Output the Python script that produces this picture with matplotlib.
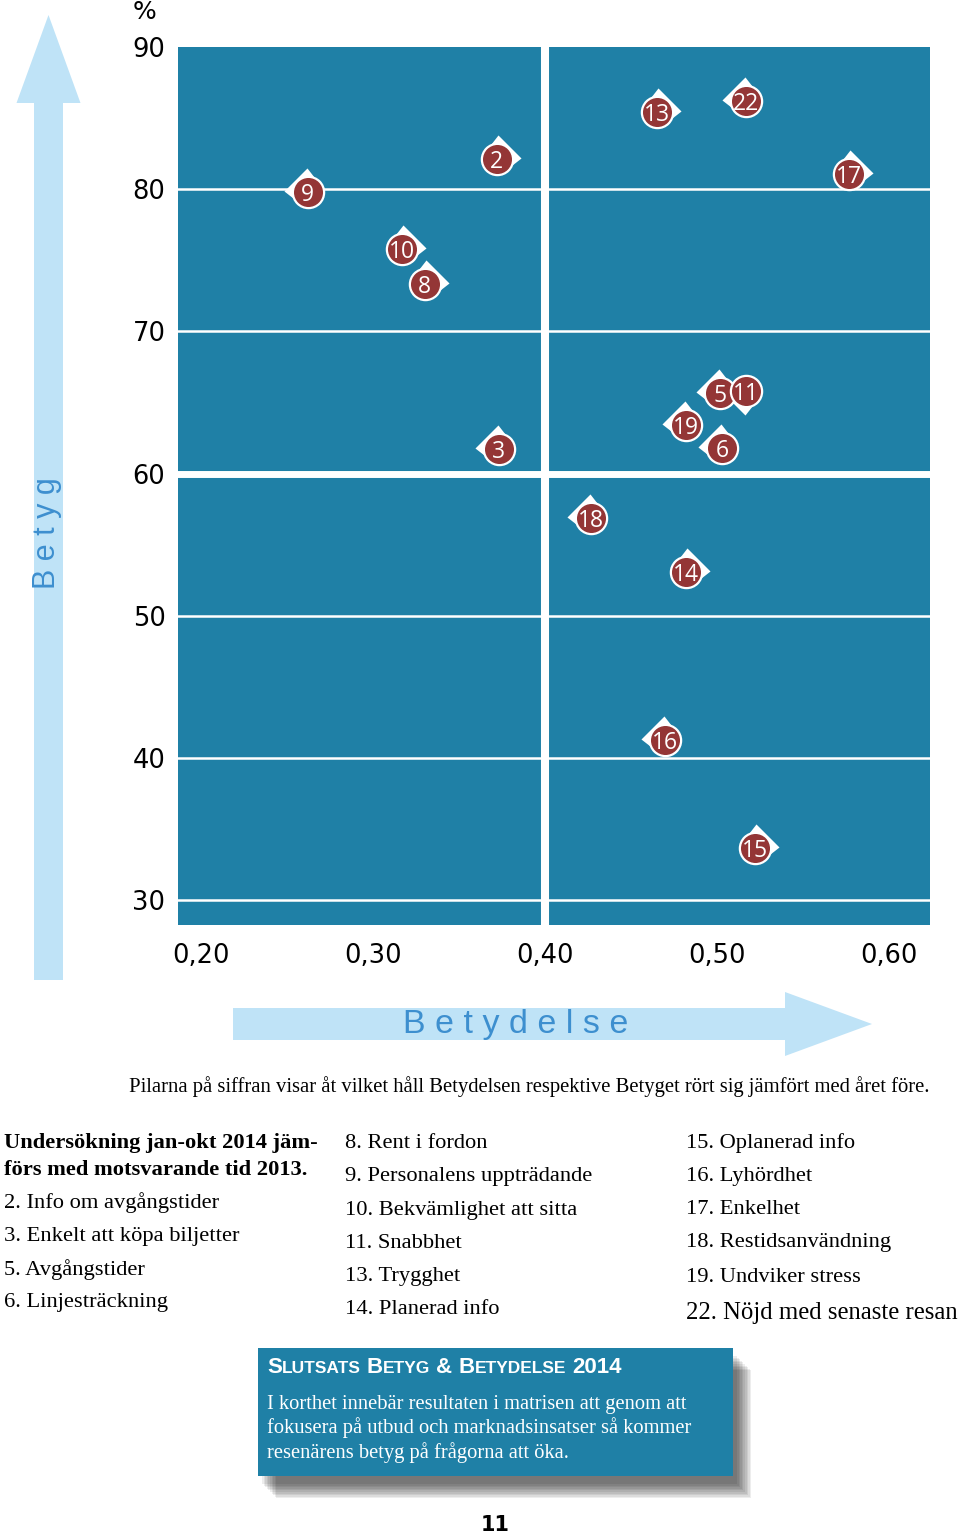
import numpy as np
import matplotlib
matplotlib.use('Agg')
import matplotlib.pyplot as plt
from matplotlib.path import Path
from matplotlib.patches import FancyArrow, Rectangle

teal = '#1f80a6'
dark_red = '#943636'
light_blue = '#bfe3f7'
arrow_text = '#3d8fcf'

# item number, Betydelse (x), Betyg in % (y)
ids = ['2', '3', '5', '6', '8', '9', '10', '11', '13', '14', '15', '16', '17', '18', '19', '22']
betydelse = [0.372, 0.373, 0.502, 0.503, 0.330, 0.262, 0.317, 0.517,
             0.465, 0.482, 0.522, 0.470, 0.577, 0.427, 0.482, 0.517]
betyg = [82.1, 61.7, 65.7, 61.8, 73.3, 79.8, 75.8, 65.8,
         85.45, 53.1, 33.65, 41.3, 81.1, 56.9, 63.4, 86.2]
# direction of change vs year before: +1 up/right, -1 down/left
dir_x = [1, -1, -1, -1, 1, -1, 1, -1, 1, 1, 1, -1, 1, -1, -1, -1]
dir_y = [1, 1, 1, 1, 1, 1, 1, -1, 1, 1, 1, 1, 1, 1, 1, 1]

xticks = [0.2, 0.3, 0.4, 0.5, 0.6]
xtick_labels = ['0,20', '0,30', '0,40', '0,50', '0,60']
yticks = [30, 40, 50, 60, 70, 80, 90]

legend_col1 = ['2. Info om avgångstider', '3. Enkelt att köpa biljetter',
               '5. Avgångstider', '6. Linjesträckning']
legend_col2 = ['8. Rent i fordon', '9. Personalens uppträdande', '10. Bekvämlighet att sitta',
               '11. Snabbhet', '13. Trygghet', '14. Planerad info']
legend_col3 = ['15. Oplanerad info', '16. Lyhördhet', '17. Enkelhet',
               '18. Restidsanvändning', '19. Undviker stress', '22. Nöjd med senaste resan']
body_lines = ['I korthet innebär resultaten i matrisen att genom att',
              'fokusera på utbud och marknadsinsatser så kommer',
              'resenärens betyg på frågorna att öka.']
title_words = ['Slutsats', 'Betyg', '&', 'Betydelse', '2014']


def pointer(sx, sy):
    # white kite sticking out of the circle towards the direction of change
    verts = [(sx * 1, sy * 24), (sx * 24, sy * 1), (sx * 6, -sy * 13),
             (-sx * 13, sy * 6), (sx * 1, sy * 24)]
    return Path(verts, closed=True)


fig = plt.figure(figsize=(9.6, 15.35), dpi=100)

# overlay in pixel coordinates for the page decorations
ov = fig.add_axes([0, 0, 1, 1])
ov.set_xlim(0, 960)
ov.set_ylim(1535, 0)
ov.axis('off')

ov.add_patch(FancyArrow(48.5, 980, 0, -965, width=29, head_width=64, head_length=88,
                        length_includes_head=True, color=light_blue, lw=0))
ov.add_patch(FancyArrow(233, 1024, 639, 0, width=32, head_width=64, head_length=87,
                        length_includes_head=True, color=light_blue, lw=0))
ov.text(47, 533, 'B e t y g', rotation=90, ha='center', va='center', color=arrow_text,
        fontsize=22, family='Liberation Sans')
ov.text(516, 1024, 'B e t y d e l s e', ha='center', va='center', color=arrow_text,
        fontsize=24.5, family='Liberation Sans')
ov.text(145, 12, '%', ha='center', va='center', fontsize=18)

serif = 'Liberation Serif'
ov.text(183, 71, 'Uppehåll', color='white', fontsize=17, family=serif, va='center')
ov.text(913, 71, 'Bibehåll', color='white', fontsize=17, family=serif, va='center', ha='right')
ov.text(193, 884, 'Utvärdera', color='white', fontsize=17, family=serif, va='center')
ov.text(922, 882, 'Prioritera', color='white', fontsize=17, family=serif, va='center', ha='right')

ov.text(529, 1087, 'Pilarna på siffran visar åt vilket håll Betydelsen respektive Betyget '
        'rört sig jämfört med året före.', ha='center', va='center', fontsize=14.9, family=serif)

# legend
fs_leg = 16.2
ov.text(4, 1143, 'Undersökning jan-okt 2014 jäm-', fontsize=fs_leg, family=serif,
        weight='bold', va='center')
ov.text(4, 1170, 'förs med motsvarande tid 2013.', fontsize=fs_leg, family=serif,
        weight='bold', va='center')
for s, yy in zip(legend_col1, [1203, 1237, 1270, 1303]):
    ov.text(4, yy, s, fontsize=fs_leg, family=serif, va='center')
for s, yy in zip(legend_col2, [1143, 1177, 1210, 1243, 1276, 1309]):
    ov.text(345, yy, s, fontsize=fs_leg, family=serif, va='center')
for s, yy in zip(legend_col3, [1143, 1177, 1210, 1243, 1278, 1313]):
    fs = 17.8 if s.startswith('22') else fs_leg
    ov.text(686, yy, s, fontsize=fs, family=serif, va='center')

# conclusion box with soft shadow
for k in range(10):
    ov.add_patch(Rectangle((262 + k * 1.6, 1356 + k * 1.6), 475, 128,
                           color='black', alpha=0.07, lw=0))
ov.add_patch(Rectangle((258, 1348), 475, 128, color=teal, lw=0))

renderer = fig.canvas.get_renderer()
x = 267
for w in title_words:
    if w[0].isalpha():
        big, small = w[0], w[1:].upper()
    else:
        big, small = w, ''
    t = ov.text(x, 1373, big, color='white', fontsize=16, weight='bold',
                family='Liberation Sans', va='baseline')
    x += t.get_window_extent(renderer).width
    if small:
        t = ov.text(x, 1373, small, color='white', fontsize=12.5, weight='bold',
                    family='Liberation Sans', va='baseline')
        x += t.get_window_extent(renderer).width
    x += 6
for s, yy in zip(body_lines, [1404, 1428, 1453]):
    ov.text(267, yy, s, color='white', fontsize=14.8, family=serif, va='center')

ov.text(495, 1525, '11', ha='center', va='center', fontsize=15, weight='bold')

# main matrix
ax = fig.add_axes([178 / 960, 1 - 925 / 1535, 752 / 960, 878 / 1535])
ax.set_facecolor(teal)
ax.set_xlim(0.1865, 0.624)
ax.set_ylim(28.26, 90)
for s in ax.spines.values():
    s.set_visible(False)
for g in [30, 40, 50, 70, 80]:
    ax.axhline(g, color='white', lw=1.8, zorder=1)
ax.axhline(60, color='white', lw=5, zorder=1)
ax.axvline(0.4, color='white', lw=5.8, zorder=1)

ax.set_xticks(xticks)
ax.set_xticklabels(xtick_labels)
ax.set_yticks(yticks)
ax.tick_params(length=0, labelsize=18.5, pad=9)
ax.tick_params(axis='x', pad=13)

for i in range(len(ids)):
    ax.plot(betydelse[i], betyg[i], marker=pointer(dir_x[i], dir_y[i]), ms=34.6,
            color='white', mew=0, ls='none', zorder=3)
for i in range(len(ids)):
    z = 4 + i * 0.01
    ax.plot(betydelse[i], betyg[i], 'o', ms=22.5, mfc=dark_red, mec='white',
            mew=1.6, zorder=z)
    ax.text(betydelse[i], betyg[i], ids[i], ha='center', va='center_baseline',
            color='white', fontsize=16.5, family='Open Sans', zorder=z + 0.005)

fig.savefig('out.png', dpi=100)
